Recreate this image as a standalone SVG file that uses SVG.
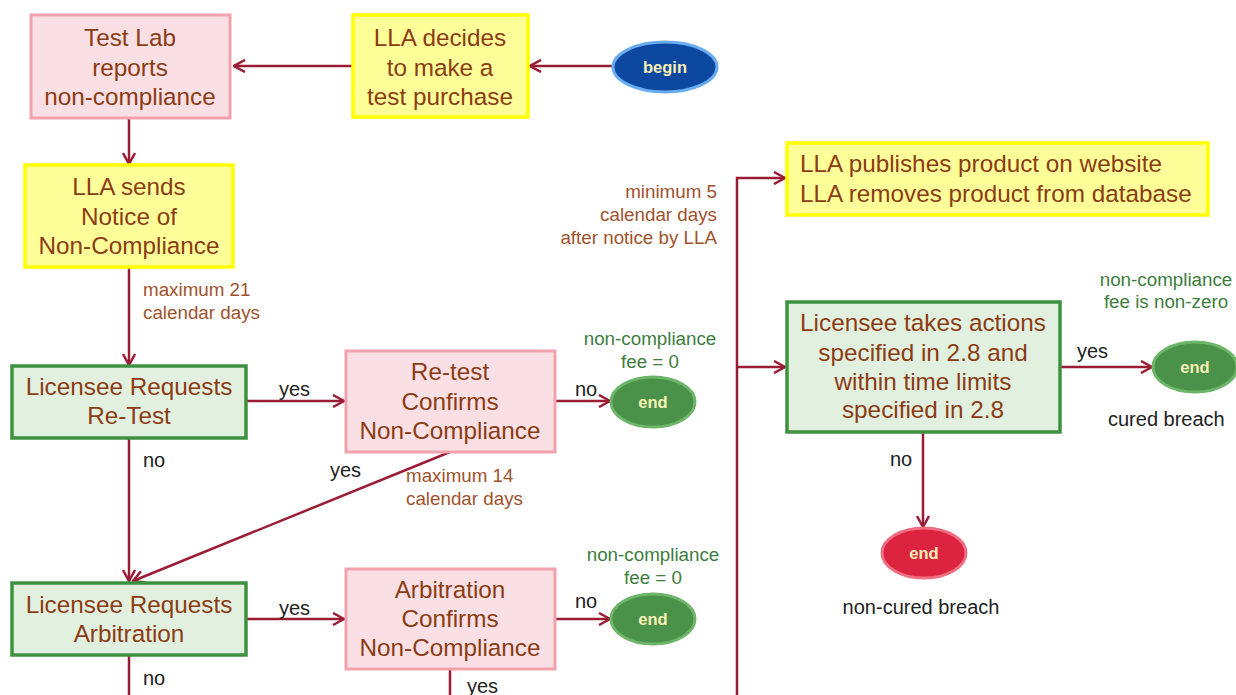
<svg xmlns="http://www.w3.org/2000/svg" width="1236" height="695" viewBox="0 0 1236 695">
<style>
.box text{font-family:"Liberation Sans",Arial,sans-serif;font-size:24.3px;fill:#8c3c14;text-anchor:middle}
.pink{fill:#fae0e4;stroke:#f2a2ae;stroke-width:3}
.yellow{fill:#ffff99;stroke:#ffff00;stroke-width:3.5}
.green{fill:#e2f0e0;stroke:#3f9142;stroke-width:3.5}
.endg{fill:#4a9249;stroke:#6cb569;stroke-width:3}
.endr{fill:#dc2440;stroke:#ef6f80;stroke-width:3}
.begin{fill:#0c47a0;stroke:#6aacf2;stroke-width:3}
.term{font-family:"Liberation Sans",Arial,sans-serif;font-size:16.5px;font-weight:bold;fill:#f7f0b6;text-anchor:middle}
.lbl{font-family:"Liberation Sans",Arial,sans-serif;font-size:20px;fill:#222}
.brn{font-family:"Liberation Sans",Arial,sans-serif;font-size:18.8px;fill:#a0522d}
.grn{font-family:"Liberation Sans",Arial,sans-serif;font-size:18.8px;fill:#3e7d3e;text-anchor:middle}
#connectors line,#connectors path{stroke:#9b1d35;stroke-width:2.5;fill:none}
</style>
<defs>
<marker id="arr" viewBox="0 0 14 14" refX="12.5" refY="7" markerWidth="14" markerHeight="14" markerUnits="userSpaceOnUse" orient="auto">
<path d="M1.5,1 L12.5,7 L1.5,13" fill="none" stroke="#9b1d35" stroke-width="2.5"/>
</marker>
</defs>
<rect width="1236" height="695" fill="#ffffff"/>

<g id="connectors">
<line x1="612" y1="66" x2="530" y2="66" marker-end="url(#arr)"/>
<line x1="353" y1="66" x2="234" y2="66" marker-end="url(#arr)"/>
<line x1="129" y1="118" x2="129" y2="164" marker-end="url(#arr)"/>
<line x1="129" y1="267" x2="129" y2="365" marker-end="url(#arr)"/>
<line x1="246" y1="401" x2="344" y2="401" marker-end="url(#arr)"/>
<line x1="555" y1="401" x2="610" y2="401" marker-end="url(#arr)"/>
<line x1="129" y1="438" x2="129" y2="581" marker-end="url(#arr)"/>
<line x1="450" y1="452" x2="133" y2="581" marker-end="url(#arr)"/>
<line x1="246" y1="619" x2="344" y2="619" marker-end="url(#arr)"/>
<line x1="555" y1="619" x2="610" y2="619" marker-end="url(#arr)"/>
<line x1="129" y1="655" x2="129" y2="695"/>
<line x1="450" y1="669" x2="450" y2="695"/>
<path d="M737,695 L737,178 L785,178" marker-end="url(#arr)"/>
<line x1="737" y1="367" x2="785" y2="367" marker-end="url(#arr)"/>
<line x1="1060" y1="367" x2="1152" y2="367" marker-end="url(#arr)"/>
<line x1="923" y1="432" x2="923" y2="527" marker-end="url(#arr)"/>
</g>

<g id="begin"><ellipse class="begin" cx="665" cy="67" rx="52" ry="25"/><text class="term" x="665" y="73">begin</text></g>

<g id="test-lab" class="box"><rect class="pink" x="31" y="15" width="199" height="103"/>
<text x="130" y="46">Test Lab</text><text x="130" y="76">reports</text><text x="130" y="105">non-compliance</text></g>

<g id="lla-decides" class="box"><rect class="yellow" x="353" y="15" width="175" height="102"/>
<text x="440" y="46">LLA decides</text><text x="440" y="76">to make a</text><text x="440" y="105">test purchase</text></g>

<g id="lla-sends" class="box"><rect class="yellow" x="25" y="165" width="208" height="102"/>
<text x="129" y="195">LLA sends</text><text x="129" y="225">Notice of</text><text x="129" y="254">Non-Compliance</text></g>

<g id="retest-request" class="box"><rect class="green" x="12" y="366" width="234" height="72"/>
<text x="129" y="395">Licensee Requests</text><text x="129" y="424">Re-Test</text></g>

<g id="retest-confirms" class="box"><rect class="pink" x="346" y="351" width="209" height="101"/>
<text x="450" y="380">Re-test</text><text x="450" y="410">Confirms</text><text x="450" y="439">Non-Compliance</text></g>

<g id="end1"><ellipse class="endg" cx="653" cy="402" rx="42" ry="25"/><text class="term" x="653" y="408">end</text></g>

<g id="arb-request" class="box"><rect class="green" x="12" y="583" width="234" height="72"/>
<text x="129" y="613">Licensee Requests</text><text x="129" y="642">Arbitration</text></g>

<g id="arb-confirms" class="box"><rect class="pink" x="346" y="569" width="209" height="100"/>
<text x="450" y="598">Arbitration</text><text x="450" y="627">Confirms</text><text x="450" y="656">Non-Compliance</text></g>

<g id="end2"><ellipse class="endg" cx="653" cy="619" rx="42" ry="25"/><text class="term" x="653" y="625">end</text></g>

<g id="lla-publishes" class="box"><rect class="yellow" x="787" y="143" width="421" height="72"/>
<text x="800" y="172" style="text-anchor:start">LLA publishes product on website</text>
<text x="800" y="202" style="text-anchor:start">LLA removes product from database</text></g>

<g id="licensee-actions" class="box"><rect class="green" x="787" y="302" width="273" height="130"/>
<text x="923" y="331">Licensee takes actions</text><text x="923" y="361">specified in 2.8 and</text>
<text x="923" y="390">within  time limits</text><text x="923" y="418">specified in 2.8</text></g>

<g id="end3"><ellipse class="endg" cx="1195" cy="367" rx="42" ry="25"/><text class="term" x="1195" y="373">end</text></g>

<g id="end4"><ellipse class="endr" cx="924" cy="553" rx="42" ry="25"/><text class="term" x="924" y="559">end</text></g>

<g id="labels">
<text class="brn" x="143" y="296">maximum 21</text>
<text class="brn" x="143" y="319">calendar days</text>
<text class="brn" x="717" y="198" text-anchor="end">minimum 5</text>
<text class="brn" x="717" y="221" text-anchor="end">calendar days</text>
<text class="brn" x="717" y="244" text-anchor="end">after notice by LLA</text>
<text class="brn" x="406" y="482">maximum 14</text>
<text class="brn" x="406" y="505">calendar days</text>
<text class="grn" x="650" y="345">non-compliance</text>
<text class="grn" x="650" y="368">fee = 0</text>
<text class="grn" x="653" y="561">non-compliance</text>
<text class="grn" x="653" y="584">fee = 0</text>
<text class="grn" x="1166" y="286">non-compliance</text>
<text class="grn" x="1166" y="308">fee is non-zero</text>
<text class="lbl" x="279" y="396">yes</text>
<text class="lbl" x="575" y="396">no</text>
<text class="lbl" x="143" y="467">no</text>
<text class="lbl" x="330" y="477">yes</text>
<text class="lbl" x="279" y="615">yes</text>
<text class="lbl" x="575" y="608">no</text>
<text class="lbl" x="143" y="685">no</text>
<text class="lbl" x="467" y="693">yes</text>
<text class="lbl" x="1077" y="358">yes</text>
<text class="lbl" x="1108" y="426">cured breach</text>
<text class="lbl" x="890" y="466">no</text>
<text class="lbl" x="921" y="614" text-anchor="middle">non-cured  breach</text>
</g>
</svg>
